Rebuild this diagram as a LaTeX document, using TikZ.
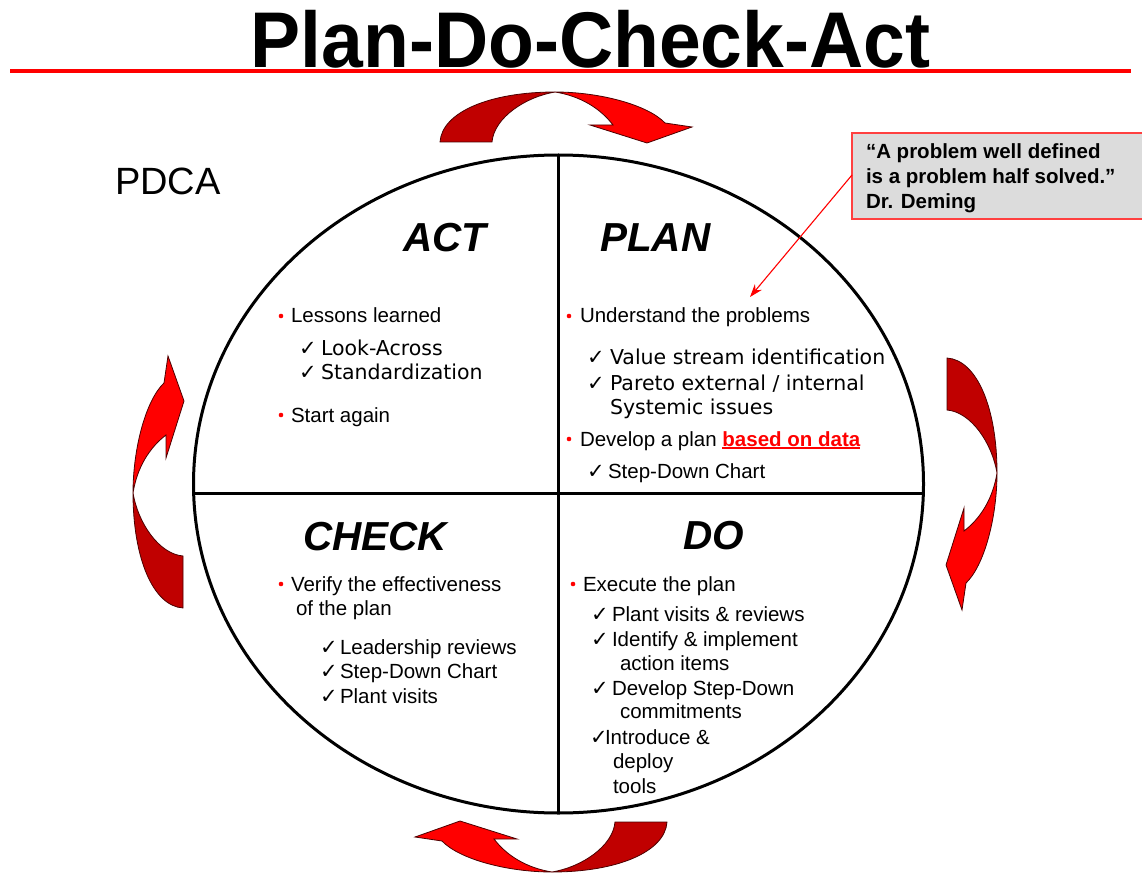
\documentclass[tikz,border=0pt]{standalone}
\usepackage{fontspec}
\setmainfont{Liberation Sans}
\newfontfamily\verd{DejaVu Sans}
\usetikzlibrary{arrows.meta,shapes.geometric}
\definecolor{darkred}{HTML}{C00000}
\definecolor{qgray}{HTML}{DCDCDC}
\definecolor{qred}{HTML}{FF4040}
\newcommand{\ck}{{\verd\fontsize{21}{21}\selectfont ✓}}
\newcommand{\redul}[1]{\setbox0\hbox{#1}\rlap{\rule[-2.6pt]{\wd0}{1.8pt}}\box0}
\tikzset{
  every node/.style={inner sep=0pt, outer sep=0pt},
  artxt/.style={font=\fontsize{20.5}{24}\selectfont, anchor=base west},
  vdtxt/.style={font=\verd\fontsize{20.5}{24}\selectfont, anchor=base west},
  qtxt/.style={font=\fontsize{20.5}{24}\selectfont\bfseries, anchor=base west},
  hdg/.style={font=\fontsize{40.5}{48}\selectfont\bfseries\itshape, anchor=base west},
  bul/.style={fill=red},
  rim/.style={draw=black!70!red, line width=0.8},
  pdcaarrow/.pic={
    \filldraw[rim, fill=darkred] (-126,24.5) .. controls (-124,-5.5) and (-76,-25.5) .. (-11,-25.5)
       .. controls (-41,-20.5) and (-72,0.5) .. (-74,24.5) -- cycle;
    \filldraw[rim, fill=red] (-11,-25.5) .. controls (34,-25.5) and (82,-12.5) .. (99,5.5)
       -- (126,9.5) -- (81,25.5) -- (24,7.5) -- (47,7.5)
       .. controls (34,-9.5) and (14,-21.5) .. (-11,-25.5) -- cycle;
  }
}
\begin{document}
\begin{tikzpicture}[x=1pt,y=-1pt]
\useasboundingbox[fill=white] (0,0) rectangle (1142,874);

% title
\node[anchor=base] (title) at (590.5,68) {\scalebox{0.95}[1]{\fontsize{79}{82}\selectfont\bfseries Plan-Do-Check-Act}};
\coordinate (rl) at (10,71);
\coordinate (rr) at (1131,71);
\draw[red, line width=4] (rl) -- (rr);

\node[anchor=base west, font=\fontsize{38}{40}\selectfont] (pdca) at (115,195) {PDCA};

% circular arrows
\pic (arT) at (566,117.5) {pdcaarrow};
\pic[rotate=-90] (arR) at (971.5,484) {pdcaarrow};
\pic[rotate=180] (arB) at (541,846.5) {pdcaarrow};
\pic[rotate=90] (arL) at (158.5,482) {pdcaarrow};

% main ellipse and dividers
\node[draw, ellipse, line width=3, minimum width=730, minimum height=658] (cyc) at (558.5,484) {};
\draw[line width=3] (cyc.north) -- (cyc.south);
\coordinate (hl) at (193.6,493);
\coordinate (hr) at (923.4,493);
\draw[line width=3] (hl) -- (hr);

% quote
\node[draw=qred, fill=qgray, line width=1.2, anchor=north west, minimum width=293, minimum height=86] (quote) at (852,133) {};
\node[qtxt] (q1) at (866,159) {“A problem well defined};
\node[qtxt] (q2) at (866,184) {is a problem half solved.”};
\node[qtxt] (q3) at (866,209) {Dr. Deming};
\coordinate (qa) at (852,175);
\coordinate (qt) at (750,297);
\draw[red, line width=1.1, -{Stealth[length=13,width=9]}] (qa) -- (qt);

% ACT
\node[hdg] (hact) at (403,252) {ACT};
\fill[bul] (281,316) circle (2.3);
\node[artxt] (a1) at (291,323) {Lessons learned};
\node[vdtxt] (a2) at (299,355) {\makebox[22pt][l]{\ck}Look-Across};
\node[vdtxt] (a3) at (299,379) {\makebox[22pt][l]{\ck}Standardization};
\fill[bul] (281,415) circle (2.3);
\node[artxt] (a4) at (291,422) {Start again};

% PLAN
\node[hdg] (hplan) at (600,252) {PLAN};
\fill[bul] (569,316) circle (2.3);
\node[artxt] (p1) at (580,323) {Understand the problems};
\node[vdtxt] (p2) at (587,364) {\makebox[23pt][l]{\ck}Value stream identification};
\node[vdtxt] (p3) at (587,390) {\makebox[23pt][l]{\ck}Pareto external / internal};
\node[vdtxt] (p4) at (610,414) {Systemic issues};
\fill[bul] (569,439) circle (2.3);
\node[artxt] (p5) at (580,446) {Develop a plan {\color{red}\bfseries\redul{based on data}}};
\node[artxt] (p6) at (587,478) {\makebox[21pt][l]{\ck}Step-Down Chart};

% CHECK
\node[hdg] (hcheck) at (303,550) {CHECK};
\fill[bul] (281,584) circle (2.3);
\node[artxt] (c1) at (291,591) {Verify the effectiveness};
\node[artxt] (c2) at (296,615) {of the plan};
\node[artxt] (c3) at (320,654) {\makebox[20pt][l]{\ck}Leadership reviews};
\node[artxt] (c4) at (320,678) {\makebox[20pt][l]{\ck}Step-Down Chart};
\node[artxt] (c5) at (320,703) {\makebox[20pt][l]{\ck}Plant visits};

% DO
\node[hdg] (hdo) at (683,549) {DO};
\fill[bul] (573,584) circle (2.3);
\node[artxt] (d1) at (583,591) {Execute the plan};
\node[artxt] (d2) at (591,621) {\makebox[21pt][l]{\ck}Plant visits \& reviews};
\node[artxt] (d3) at (591,646) {\makebox[21pt][l]{\ck}Identify \& implement};
\node[artxt] (d4) at (620,670) {action items};
\node[artxt] (d5) at (591,695) {\makebox[21pt][l]{\ck}Develop Step-Down};
\node[artxt] (d6) at (620,718) {commitments};
\node[artxt] (d7) at (590,744) {\makebox[15pt][l]{\ck}Introduce \&};
\node[artxt] (d8) at (613,768) {deploy};
\node[artxt] (d9) at (613,793) {tools};
\end{tikzpicture}
\end{document}
